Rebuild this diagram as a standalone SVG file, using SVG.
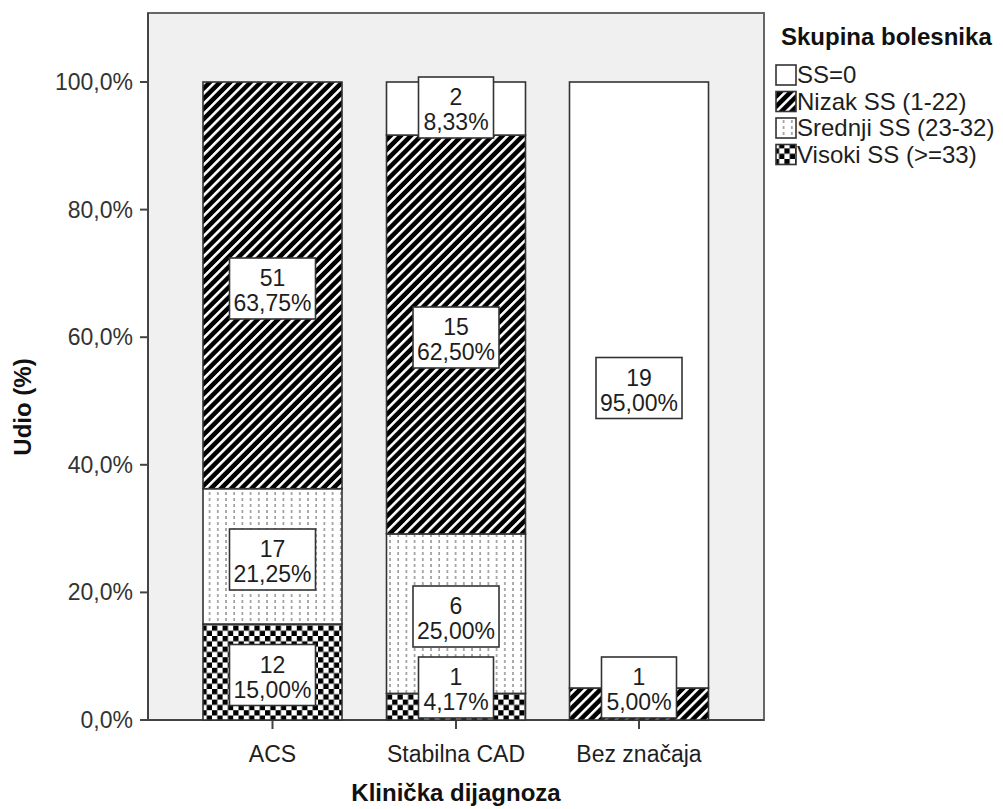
<svg xmlns="http://www.w3.org/2000/svg" width="1003" height="809" viewBox="0 0 1003 809">
<style>
.t{font-family:"Liberation Sans",Arial,sans-serif;font-size:24px;fill:#1e1e1e}
.tk{font-family:"Liberation Sans",Arial,sans-serif;font-size:23px;fill:#333;text-anchor:end}
.xl{font-family:"Liberation Sans",Arial,sans-serif;font-size:23px;fill:#1e1e1e;text-anchor:middle}
.b{font-family:"Liberation Sans",Arial,sans-serif;font-size:24px;font-weight:bold;fill:#111}
.lbl{font-family:"Liberation Sans",Arial,sans-serif;font-size:23px;fill:#1e1e1e;text-anchor:middle}
.seg{stroke:#333;stroke-width:1.6}
.box{fill:#fff;stroke:#333;stroke-width:1.6}
.tick{stroke:#444;stroke-width:2}
</style>
<defs>
<pattern id="hatch" patternUnits="userSpaceOnUse" width="7.2" height="7.2" patternTransform="rotate(45)">
<rect width="7.2" height="7.2" fill="#000"/>
<rect width="2.6" height="7.2" fill="#fff"/>
</pattern>
<pattern id="dots" patternUnits="userSpaceOnUse" width="8.2" height="6">
<rect width="8.2" height="6" fill="#fff"/>
<rect x="4" y="0" width="1.2" height="3" fill="#777"/>
</pattern>
<pattern id="checker" patternUnits="userSpaceOnUse" width="10.6" height="10.6">
<rect width="10.6" height="10.6" fill="#fff"/>
<rect width="5.3" height="5.3" fill="#000"/>
<rect x="5.3" y="5.3" width="5.3" height="5.3" fill="#000"/>
</pattern>
</defs>
<rect width="1003" height="809" fill="#fff"/>
<g id="plot-frame">
<rect x="148" y="13" width="616" height="707" fill="#f0f0f0" stroke="#666" stroke-width="2"/>
</g>
<g id="axes">
<line x1="148" y1="13" x2="148" y2="720" class="tick"/>
<line x1="148" y1="720" x2="764" y2="720" class="tick"/>
<line x1="140" y1="82" x2="148" y2="82" class="tick"/>
<line x1="140" y1="209.6" x2="148" y2="209.6" class="tick"/>
<line x1="140" y1="337.2" x2="148" y2="337.2" class="tick"/>
<line x1="140" y1="464.8" x2="148" y2="464.8" class="tick"/>
<line x1="140" y1="592.4" x2="148" y2="592.4" class="tick"/>
<line x1="140" y1="720" x2="148" y2="720" class="tick"/>
<text class="tk" x="133" y="90">100,0%</text>
<text class="tk" x="133" y="217.6">80,0%</text>
<text class="tk" x="133" y="345.2">60,0%</text>
<text class="tk" x="133" y="472.8">40,0%</text>
<text class="tk" x="133" y="600.4">20,0%</text>
<text class="tk" x="133" y="728">0,0%</text>
<line x1="272.5" y1="720" x2="272.5" y2="729" class="tick"/>
<line x1="456" y1="720" x2="456" y2="729" class="tick"/>
<line x1="639" y1="720" x2="639" y2="729" class="tick"/>
<text class="xl" x="272.5" y="762">ACS</text>
<text class="xl" x="456" y="762">Stabilna CAD</text>
<text class="xl" x="639" y="762">Bez značaja</text>
<text class="b" x="456" y="801" text-anchor="middle">Klinička dijagnoza</text>
<text class="b" transform="translate(31,407) rotate(-90)" text-anchor="middle">Udio (%)</text>
</g>
<g id="bar-acs">
<rect class="seg" x="203" y="624" width="139" height="96" fill="url(#checker)"/>
<rect class="seg" x="203" y="488.7" width="139" height="135.3" fill="url(#dots)"/>
<rect class="seg" x="203" y="82" width="139" height="406.7" fill="url(#hatch)"/>
<rect class="box" x="229.5" y="258" width="86" height="61"/>
<text class="lbl" x="272.5" y="286">51</text><text class="lbl" x="272.5" y="311">63,75%</text>
<rect class="box" x="229.5" y="529" width="86" height="61"/>
<text class="lbl" x="272.5" y="557">17</text><text class="lbl" x="272.5" y="582">21,25%</text>
<rect class="box" x="229.5" y="644.5" width="86" height="61"/>
<text class="lbl" x="272.5" y="672.5">12</text><text class="lbl" x="272.5" y="697.5">15,00%</text>
</g>
<g id="bar-stabilna-cad">
<rect class="seg" x="386.5" y="693.4" width="139" height="26.6" fill="url(#checker)"/>
<rect class="seg" x="386.5" y="533.9" width="139" height="159.5" fill="url(#dots)"/>
<rect class="seg" x="386.5" y="135.1" width="139" height="398.8" fill="url(#hatch)"/>
<rect class="seg" x="386.5" y="82" width="139" height="53.1" fill="#fff"/>
<rect class="box" x="418.5" y="77" width="75" height="61"/>
<text class="lbl" x="456" y="105">2</text><text class="lbl" x="456" y="130">8,33%</text>
<rect class="box" x="413" y="307" width="86" height="61"/>
<text class="lbl" x="456" y="335">15</text><text class="lbl" x="456" y="360">62,50%</text>
<rect class="box" x="413" y="586" width="86" height="61"/>
<text class="lbl" x="456" y="614">6</text><text class="lbl" x="456" y="639">25,00%</text>
<rect class="box" x="418.5" y="657" width="75" height="61"/>
<text class="lbl" x="456" y="685">1</text><text class="lbl" x="456" y="710">4,17%</text>
</g>
<g id="bar-bez-znacaja">
<rect class="seg" x="569.5" y="688" width="139" height="32" fill="url(#hatch)"/>
<rect class="seg" x="569.5" y="82" width="139" height="606" fill="#fff"/>
<rect class="box" x="596" y="357.5" width="86" height="61"/>
<text class="lbl" x="639" y="385.5">19</text><text class="lbl" x="639" y="410.5">95,00%</text>
<rect class="box" x="601.5" y="657" width="75" height="61"/>
<text class="lbl" x="639" y="685">1</text><text class="lbl" x="639" y="710">5,00%</text>
</g>
<g id="legend">
<text class="b" x="781" y="45">Skupina bolesnika</text>
<rect class="seg" x="776" y="65" width="20" height="20" fill="#fff"/>
<text class="t" x="797" y="83">SS=0</text>
<rect class="seg" x="776" y="91.5" width="20" height="20" fill="url(#hatch)"/>
<text class="t" x="797" y="109.5">Nizak SS (1-22)</text>
<rect class="seg" x="776" y="118" width="20" height="20" fill="url(#dots)"/>
<text class="t" x="797" y="136">Srednji SS (23-32)</text>
<rect class="seg" x="776" y="144.5" width="20" height="20" fill="url(#checker)"/>
<text class="t" x="797" y="162.5">Visoki SS (&gt;=33)</text>
</g>
</svg>
